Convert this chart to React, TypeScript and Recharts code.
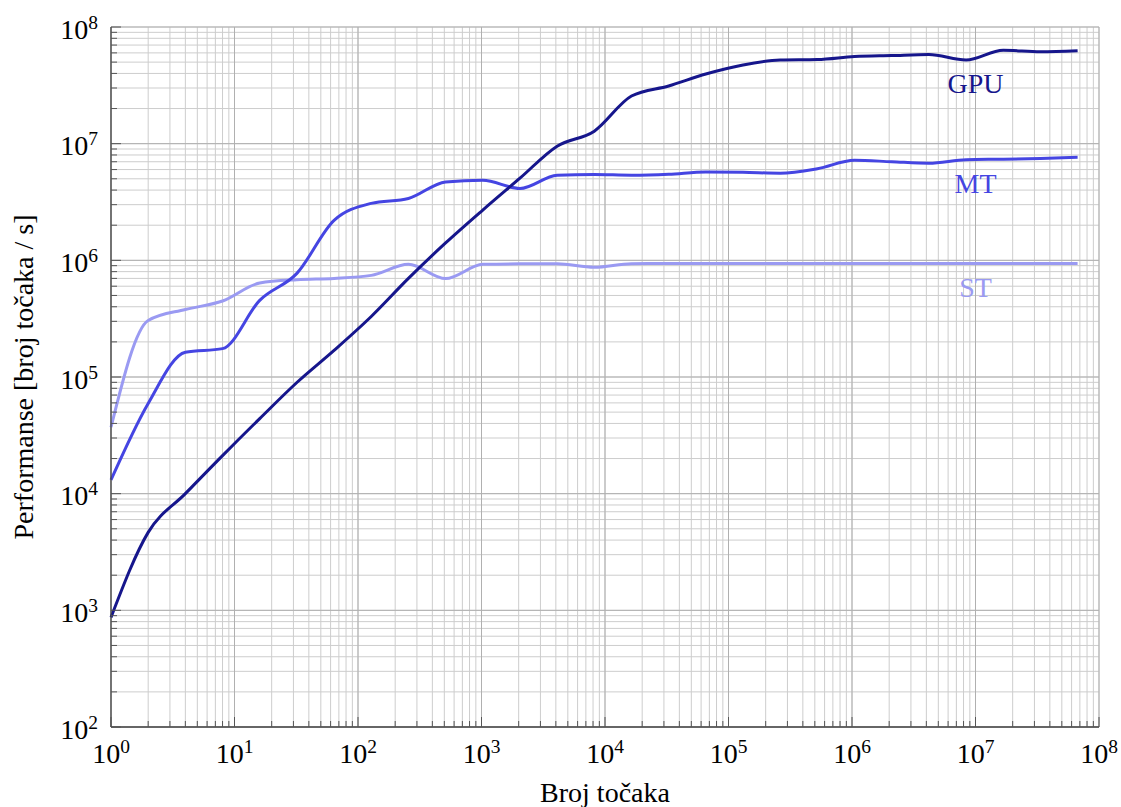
import { LineChart, Line, XAxis, YAxis, CartesianGrid, ReferenceLine, ReferenceDot } from 'recharts';

// broj točaka (2^0 .. 2^26)
const pointCounts = [
  1, 2, 4, 8, 16, 32, 64, 128, 256, 512, 1024, 2048, 4096, 8192, 16384, 32768, 65536,
  131072, 262144, 524288, 1048576, 2097152, 4194304, 8388608, 16777216, 33554432, 67108864,
];

// točaka / s
const gpuPerf = [
  870, 4660, 10000, 21200, 44000, 89700, 169000, 330000, 700000, 1410000, 2700000, 5060000,
  9520000, 12800000, 25600000, 31200000, 39500000, 47200000, 52100000, 52600000, 55800000,
  56900000, 58000000, 52100000, 63100000, 61400000, 62700000,
];
const mtPerf = [
  13100, 59300, 163000, 175000, 454000, 773000, 2200000, 3080000, 3390000, 4700000, 4860000,
  4130000, 5370000, 5450000, 5370000, 5470000, 5730000, 5690000, 5580000, 6100000, 7210000,
  7000000, 6800000, 7290000, 7360000, 7470000, 7660000,
];
const stPerf = [
  37100, 305000, 379000, 448000, 639000, 683000, 700000, 743000, 924000, 697000, 924000,
  933000, 933000, 871000, 936000, 938000, 938000, 939000, 939000, 938000, 939000, 939000,
  939000, 939000, 939000, 939000, 940000,
];

const xMajorTicks = [1, 10, 100, 1e3, 1e4, 1e5, 1e6, 1e7, 1e8];
const yMajorTicks = [1e2, 1e3, 1e4, 1e5, 1e6, 1e7, 1e8];
const minorSteps = [2, 3, 4, 5, 6, 7, 8, 9];

// položaji oznaka serija (koordinate osi)
const seriesLabels = [
  { name: 'GPU', x: 1e7, y: 3.3e7, color: '#16168c' },
  { name: 'MT', x: 1e7, y: 4.6e6, color: '#4545e2' },
  { name: 'ST', x: 1e7, y: 5.9e5, color: '#9a9af2' },
];

const withMinor = (majors: number[]) =>
  majors.flatMap((m, i) => (i < majors.length - 1 ? [m, ...minorSteps.map((s) => m * s)] : [m]));

const xTicks = withMinor(xMajorTicks);
const yTicks = withMinor(yMajorTicks);

const data = pointCounts.map((n, i) => ({ n, gpu: gpuPerf[i], mt: mtPerf[i], st: stPerf[i] }));

const FONT = '"Liberation Serif", "DejaVu Serif", serif';
const TICK_COLOR = '#555';
const FRAME = '#444';

const isMajor = (v: number) => Math.abs(Math.log10(v) - Math.round(Math.log10(v))) < 1e-9;

const BottomTick = ({ x, y, payload }: any) => {
  const v = payload.value;
  const major = isMajor(v);
  return (
    <g>
      <line x1={x} x2={x} y1={y} y2={y - (major ? 10 : 6)} stroke={TICK_COLOR} strokeWidth={1} />
      {major && (
        <text x={x} y={y + 36} textAnchor="middle" fontFamily={FONT} fontSize={28} fill="#000">
          10<tspan dy={-10} fontSize={19.5}>{Math.round(Math.log10(v))}</tspan>
        </text>
      )}
    </g>
  );
};

const TopTick = ({ x, y, payload }: any) => {
  const major = isMajor(payload.value);
  return <line x1={x} x2={x} y1={y} y2={y + (major ? 10 : 6)} stroke={TICK_COLOR} strokeWidth={1} />;
};

const LeftTick = ({ x, y, payload }: any) => {
  const v = payload.value;
  const major = isMajor(v);
  return (
    <g>
      <line x1={x} x2={x + (major ? 10 : 6)} y1={y} y2={y} stroke={TICK_COLOR} strokeWidth={1} />
      {major && (
        <text x={x - 13} y={y + 11.5} textAnchor="end" fontFamily={FONT} fontSize={28} fill="#000">
          10<tspan dy={-10} fontSize={19.5}>{Math.round(Math.log10(v))}</tspan>
        </text>
      )}
    </g>
  );
};

const RightTick = ({ x, y, payload }: any) => {
  const major = isMajor(payload.value);
  return <line x1={x} x2={x - (major ? 10 : 6)} y1={y} y2={y} stroke={TICK_COLOR} strokeWidth={1} />;
};

const XTitle = ({ viewBox }: any) => (
  <text x={viewBox.x + viewBox.width / 2} y={viewBox.y + 75} textAnchor="middle" fontFamily={FONT} fontSize={28} fill="#000">
    Broj točaka
  </text>
);

const YTitle = ({ viewBox }: any) => {
  const cy = viewBox.y + viewBox.height / 2;
  return (
    <text x={33} y={cy} transform={`rotate(-90, 33, ${cy})`} textAnchor="middle" fontFamily={FONT} fontSize={28} fill="#000">
      Performanse [broj točaka / s]
    </text>
  );
};

const seriesLabelShape = (name: string, color: string) => (p: any) => (
  <text x={p.cx} y={p.cy} dy={10} textAnchor="middle" fontFamily={FONT} fontSize={28} fill={color}>
    {name}
  </text>
);

export default function App() {
  return (
    <div style={{ position: 'absolute', left: 0, top: 0, width: 1121, height: 807, background: '#fff' }}>
      <LineChart width={1121} height={807} data={data} margin={{ top: 27, right: 22, left: 0, bottom: 0 }}>
        <CartesianGrid stroke="#cdcdcd" strokeWidth={1} />
        {xMajorTicks.map((t) => (
          <ReferenceLine key={`vx${t}`} x={t} stroke="#b0b0b0" strokeWidth={1} />
        ))}
        {yMajorTicks.map((t) => (
          <ReferenceLine key={`hy${t}`} y={t} stroke="#b0b0b0" strokeWidth={1} />
        ))}
        <XAxis
          dataKey="n"
          type="number"
          scale="log"
          domain={[1, 1e8]}
          ticks={xTicks}
          interval={0}
          height={80}
          tickSize={0}
          tickMargin={0}
          tickLine={false}
          tick={<BottomTick />}
          axisLine={{ stroke: FRAME, strokeWidth: 1.3 }}
          label={<XTitle />}
        />
        <XAxis
          xAxisId="top"
          orientation="top"
          type="number"
          scale="log"
          domain={[1, 1e8]}
          ticks={xTicks}
          interval={0}
          height={0}
          tickSize={0}
          tickMargin={0}
          tickLine={false}
          tick={<TopTick />}
          axisLine={{ stroke: FRAME, strokeWidth: 1.3 }}
        />
        <YAxis
          type="number"
          scale="log"
          domain={[100, 1e8]}
          ticks={yTicks}
          interval={0}
          width={111}
          tickSize={0}
          tickMargin={0}
          tickLine={false}
          tick={<LeftTick />}
          axisLine={{ stroke: FRAME, strokeWidth: 1.3 }}
          label={<YTitle />}
        />
        <YAxis
          yAxisId="right"
          orientation="right"
          type="number"
          scale="log"
          domain={[100, 1e8]}
          ticks={yTicks}
          interval={0}
          width={0}
          tickSize={0}
          tickMargin={0}
          tickLine={false}
          tick={<RightTick />}
          axisLine={{ stroke: FRAME, strokeWidth: 1.3 }}
        />
        <Line type="monotone" dataKey="st" stroke="#9a9af2" strokeWidth={3} dot={false} activeDot={false} isAnimationActive={false} />
        <Line type="monotone" dataKey="mt" stroke="#4545e2" strokeWidth={3} dot={false} activeDot={false} isAnimationActive={false} />
        <Line type="monotone" dataKey="gpu" stroke="#16168c" strokeWidth={3} dot={false} activeDot={false} isAnimationActive={false} />
        {seriesLabels.map((s) => (
          <ReferenceDot key={s.name} x={s.x} y={s.y} r={0} shape={seriesLabelShape(s.name, s.color)} />
        ))}
      </LineChart>
    </div>
  );
}
